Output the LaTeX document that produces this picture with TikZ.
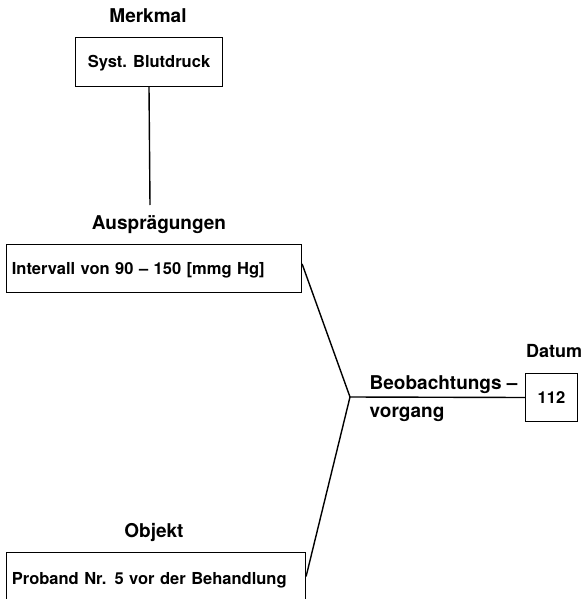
\documentclass[tikz,border=0pt]{standalone}
\usepackage{fontspec}
\setmainfont{TeX Gyre Heros}
\begin{document}
\begin{tikzpicture}[x=1pt,y=-1pt,
  line width=1.4pt,
  head/.style={font=\fontsize{19}{19}\selectfont\bfseries, inner sep=0pt, anchor=base},
  subhead/.style={font=\fontsize{18}{18}\selectfont\bfseries, inner sep=0pt, anchor=base},
  label/.style={font=\fontsize{19}{19}\selectfont\bfseries, inner sep=0pt, anchor=base west},
  box/.style={draw, font=\fontsize{16.5}{16.5}\selectfont\bfseries,
    text height=11.8pt, text depth=0pt},
  widebox/.style={box, anchor=north west, align=left, inner xsep=5.5pt},
  link/.style={line join=miter}]
\useasboundingbox (0,0) rectangle (584,599);
\clip (0,0) rectangle (584,599);

% characteristic
\node[head] (merkmal) at (148,23) {Merkmal};
\node[box, minimum width=147pt, minimum height=49pt] (syst) at (149,62) {Syst. Blutdruck};
\coordinate (stem) at (150,205);
\draw[link] (syst.south) -- (stem);

% values
\node[head] (auspr) at (159,229) {Ausprägungen};
\node[widebox, text width=284pt, minimum height=48pt] (intv) at (5.7,243.7)
  {Intervall von 90 – 150 [mmg Hg]};

% object
\node[head] (objekt) at (154,537) {Objekt};
\node[widebox, text width=288pt, minimum height=52pt] (prob) at (5.7,551.7)
  {Proband Nr. 5 vor der Behandlung};

% datum
\node[subhead] (datum) at (554,357) {Datum};
\node[box, minimum width=52pt, minimum height=48pt] (dat) at (551.5,397.5) {112};

% observation process
\coordinate (j) at (350,397);
\node[label] (beob) at (369,389) {Beobachtungs –};
\node[label] (vorg) at (369,417) {vorgang};

\draw[link] ([yshift=4.5pt]intv.east) -- (j) -- ([yshift=2pt]prob.east);
\draw[link] (j) -- (dat.west);
\end{tikzpicture}
\end{document}
